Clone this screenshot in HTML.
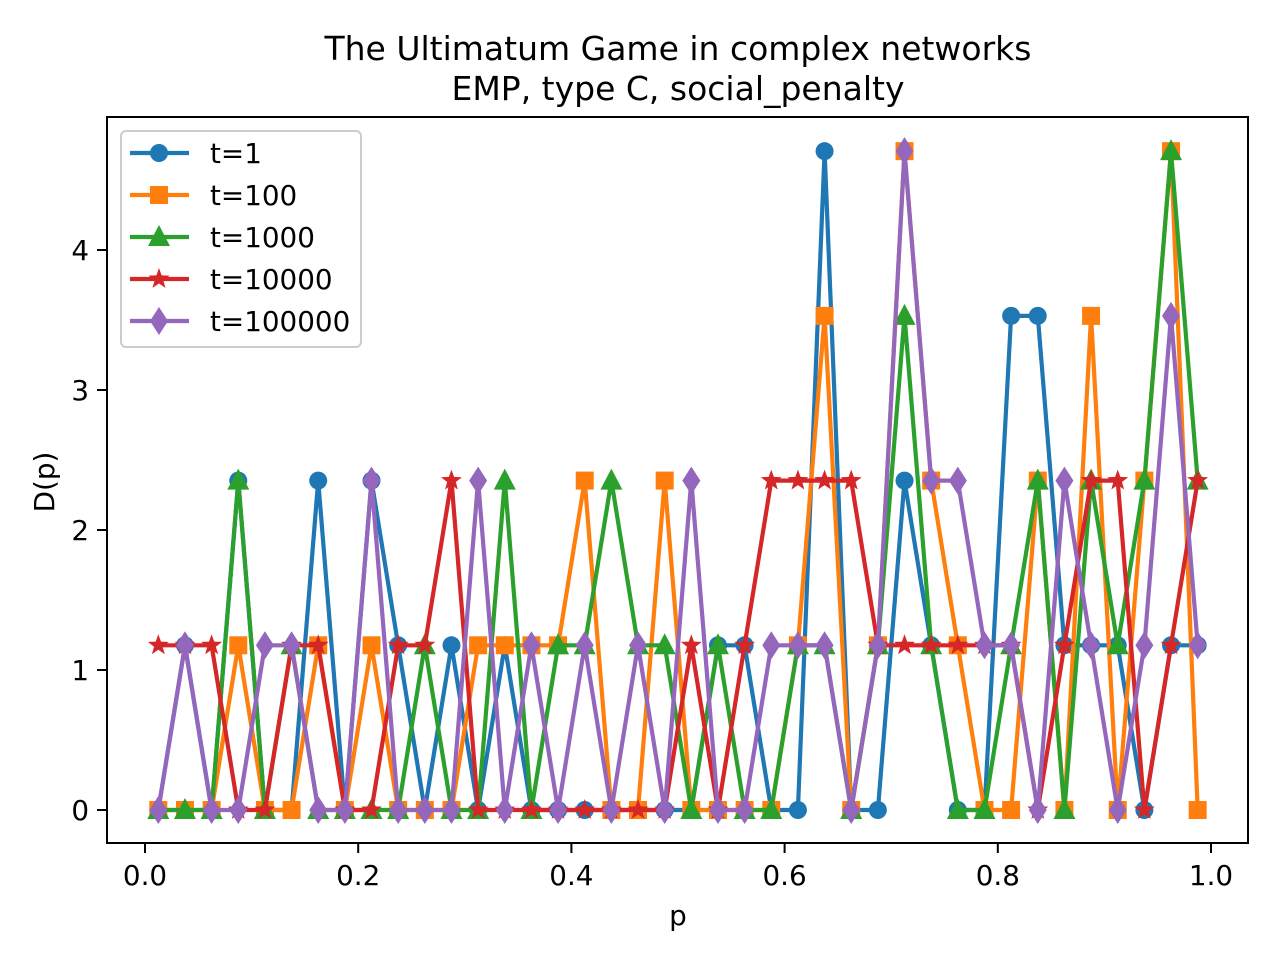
<!DOCTYPE html>
<html><head><meta charset="utf-8"><style>
body{margin:0;background:#fff}
svg text{font-family:"DejaVu Sans","Liberation Sans",sans-serif;fill:#000}
</style></head><body>
<svg id="chart" width="1280" height="960" xmlns="http://www.w3.org/2000/svg">
<rect width="1280" height="960" fill="#fff"/>
<text x="678" y="60" font-size="33" text-anchor="middle">The Ultimatum Game in complex networks</text>
<text x="678" y="100" font-size="33" text-anchor="middle">EMP, type C, social_penalty</text>
<g id="plot"></g>
<rect x="107" y="117" width="1141" height="726" fill="none" stroke="#000" stroke-width="2"/>
<g id="xticks"></g>
<g id="yticks"></g>
<text x="678" y="925" font-size="27.8" text-anchor="middle">p</text>
<text x="0" y="0" font-size="27.8" text-anchor="middle" transform="translate(54,482) rotate(-90)">D(p)</text>
<g id="legend"></g>
</svg>
<script>
const unit = 1.1765;
const seriesNames = ["t=1","t=100","t=1000","t=10000","t=100000"];
const xTicks = [0.0,0.2,0.4,0.6,0.8,1.0];
const xTickLabels = ["0.0","0.2","0.4","0.6","0.8","1.0"];
const yTicks = [0,1,2,3,4];
const yTickLabels = ["0","1","2","3","4"];
const pValues = Array.from({length:40},(_, k)=>0.0125+0.025*k);
const levelsT1 = [0,1,0,2,0,0,2,0,2,1,0,1,0,1,0,0,0,0,0,0,0,1,1,0,0,4,0,0,2,1,0,0,3,3,1,1,1,0,1,1];
const levelsT100 = [0,0,0,1,0,0,1,0,1,0,0,0,1,1,1,1,2,0,0,2,0,0,0,0,1,3,0,1,4,2,1,0,0,2,0,3,0,2,4,0];
const levelsT1000 = [0,0,0,2,0,1,0,0,0,0,1,0,0,2,0,1,1,2,1,1,0,1,0,0,1,1,0,1,3,1,0,0,1,2,0,2,1,2,4,2];
const levelsT10000 = [1,1,1,0,0,1,1,0,0,1,1,2,0,0,0,0,0,0,0,0,1,0,1,2,2,2,2,1,1,1,1,1,1,0,1,2,2,0,1,2];
const levelsT100000 = [0,1,0,0,1,1,0,0,2,0,0,0,2,0,1,0,1,0,1,0,2,0,0,1,1,1,0,1,4,2,2,1,1,0,2,1,0,1,3,1];

const NS="http://www.w3.org/2000/svg";
const X = p => 145 + 1066*p;
const Y = v => 810 - 140*v;
function mk(tag, attrs, parent){const e=document.createElementNS(NS,tag);for(const k in attrs)e.setAttribute(k,attrs[k]);parent.appendChild(e);return e;}
const colors=["#1f77b4","#ff7f0e","#2ca02c","#d62728","#9467bd"];
const shapes=["circle","square","triangle","star","diamond"];
const allLevels=[levelsT1,levelsT100,levelsT1000,levelsT10000,levelsT100000];

function marker(shape,cx,cy,color,parent){
  let e;
  if(shape==="circle"){e=mk("circle",{cx:cx,cy:cy,r:9,fill:color},parent);}
  else if(shape==="square"){e=mk("rect",{x:cx-9,y:cy-9,width:18,height:18,fill:color},parent);}
  else if(shape==="triangle"){e=mk("polygon",{points:`${cx},${cy-12} ${cx+11},${cy+9} ${cx-11},${cy+9}`,fill:color},parent);}
  else if(shape==="star"){let pts=[];for(let i=0;i<10;i++){const r=i%2?4.5:11;const a=-Math.PI/2+i*Math.PI/5;pts.push((cx+r*Math.cos(a)).toFixed(1)+","+(cy+r*Math.sin(a)).toFixed(1));}e=mk("polygon",{points:pts.join(" "),fill:color},parent);}
  else {e=mk("polygon",{points:`${cx},${cy-14} ${cx+9},${cy} ${cx},${cy+14} ${cx-9},${cy}`,fill:color},parent);}
  return e;
}

const plot=document.getElementById("plot");
allLevels.forEach((lv,si)=>{
  const g=mk("g",{},plot);
  
  
  const pts=lv.map((l,i)=>X(pValues[i]).toFixed(1)+","+Y(l*unit).toFixed(1)).join(" ");
  const pl=mk("polyline",{points:pts,fill:"none",stroke:colors[si],"stroke-width":4.2,"stroke-linejoin":"round"},g);
  
  
  lv.forEach((l,i)=>{
    const m=marker(shapes[si],X(pValues[i]),Y(l*unit),colors[si],g);
    
    
  });
});

const xt=document.getElementById("xticks");
xTicks.forEach((t,i)=>{
  const l=mk("line",{x1:X(t),x2:X(t),y1:843,y2:853,stroke:"#000","stroke-width":2},xt);
  
  
  const tx=mk("text",{x:X(t),y:885,"font-size":27.8,"text-anchor":"middle"},xt);
  tx.textContent=xTickLabels[i];
  
  
});
const yt=document.getElementById("yticks");
yTicks.forEach((t,i)=>{
  const l=mk("line",{x1:97,x2:107,y1:Y(t),y2:Y(t),stroke:"#000","stroke-width":2},yt);
  
  
  const tx=mk("text",{x:89,y:Y(t)+10,"font-size":27.8,"text-anchor":"end"},yt);
  tx.textContent=yTickLabels[i];
  
  
});

const lg=document.getElementById("legend");
const box=mk("rect",{x:121,y:131,width:240,height:216,rx:5,fill:"#fff","fill-opacity":0.8,stroke:"#ccc","stroke-width":2},lg);


seriesNames.forEach((n,i)=>{
  const y=153+42*i;
  const g=mk("g",{},lg);
  
  
  mk("line",{x1:130,x2:189,y1:y,y2:y,stroke:colors[i],"stroke-width":4.2},g);
  marker(shapes[i],159,y,colors[i],g);
  const tx=mk("text",{x:210,y:y+10,"font-size":27.8},g);
  tx.textContent=n;
});
</script>
</body></html>
